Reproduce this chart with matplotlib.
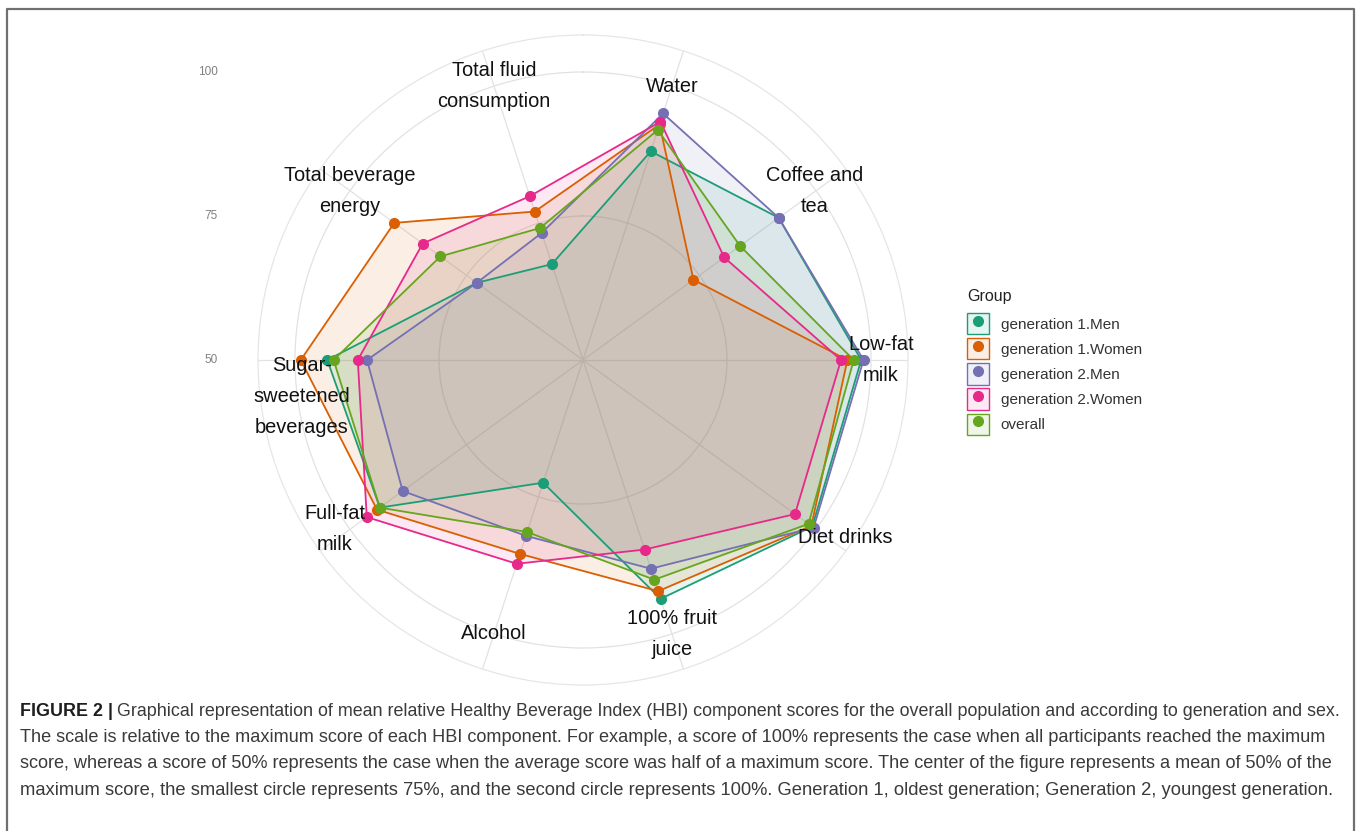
import numpy as np
import matplotlib
matplotlib.use('Agg')
import matplotlib.pyplot as plt
from matplotlib.patches import Patch
from matplotlib.lines import Line2D
from matplotlib.legend_handler import HandlerTuple
from matplotlib.colors import to_rgba

# ---------------- data ----------------
categories = ["Water", "Coffee and\ntea", "Low-fat\nmilk", "Diet drinks",
              "100% fruit\njuice", "Alcohol", "Full-fat\nmilk",
              "Sugar-\nsweetened\nbeverages", "Total beverage\nenergy",
              "Total fluid\nconsumption"]
groups = ["generation 1.Men", "generation 1.Women", "generation 2.Men",
          "generation 2.Women", "overall"]
gen1_men   = [88.1, 92.0, 98.3, 99.2, 93.6, 72.4, 93.6, 94.4, 72.8, 67.5]
gen1_women = [93.0, 73.7, 95.9, 99.0, 92.2, 85.4, 94.2, 99.0, 90.5, 77.1]
gen2_men   = [95.0, 92.0, 98.7, 99.5, 88.1, 82.1, 88.7, 87.5, 72.8, 73.2]
gen2_women = [93.5, 80.3, 94.8, 95.5, 84.6, 87.2, 96.4, 89.1, 84.4, 79.9]
overall    = [92.0, 83.7, 97.0, 98.4, 90.1, 81.4, 93.6, 93.3, 80.6, 74.1]
radial_ticks = [50, 75, 100]
legend_title = "Group"

caption_bold = "FIGURE 2 |"
caption_lines = [
    " Graphical representation of mean relative Healthy Beverage Index (HBI) component scores for the overall population and according to generation and sex.",
    "The scale is relative to the maximum score of each HBI component. For example, a score of 100% represents the case when all participants reached the maximum",
    "score, whereas a score of 50% represents the case when the average score was half of a maximum score. The center of the figure represents a mean of 50% of the",
    "maximum score, the smallest circle represents 75%, and the second circle represents 100%. Generation 1, oldest generation; Generation 2, youngest generation.",
]

# ---------------- style ----------------
colors = ["#1B9E77", "#D95F02", "#7570B3", "#E7298A", "#66A61E"]
series = [gen1_men, gen1_women, gen2_men, gen2_women, overall]
FONT = "Liberation Sans"
plt.rcParams['font.family'] = [FONT, 'DejaVu Sans']

W, H = 1360, 831
cx, cy, R = 583, 360, 325
fig = plt.figure(figsize=(W / 100, H / 100), dpi=100)
fig.patch.set_facecolor('white')

ax = fig.add_axes([(cx - R) / W, (H - cy - R) / H, 2 * R / W, 2 * R / H],
                  projection='polar')
ax.set_theta_zero_location('N')
ax.set_theta_direction(-1)
rmax = 50 + 50 * R / 288.0
ax.set_ylim(50, rmax)
theta = np.deg2rad(18 + 36 * np.arange(len(categories)))
ax.set_xticks(theta)
ax.set_xticklabels([])
ax.set_yticks([75, 100])
ax.set_yticklabels([])
ax.grid(True, color='#e2e2e2', lw=0.9)
ax.spines['polar'].set_color('#e6e6e6')
ax.spines['polar'].set_linewidth(0.9)

tt = np.append(theta, theta[0])
for vals, c in zip(series, colors):
    rr = np.append(vals, vals[0])
    ax.fill(tt, rr, color=c, alpha=0.1, lw=0, zorder=2)
for vals, c in zip(series, colors):
    rr = np.append(vals, vals[0])
    ax.plot(tt, rr, color=c, lw=1.3, zorder=3)
for vals, c in zip(series, colors):
    ax.plot(theta, vals, 'o', color=c, ms=7, zorder=4, clip_on=False)

label_offsets = [(0, 0), (-1, 0), (10, 0), (29, -8), (0, 0),
                 (0, 0), (-15, 0), (7, -36), (0, 0), (0, 0)]
for th, lab, off in zip(theta, categories, label_offsets):
    ax.annotate(lab, xy=(th, 100), xytext=off, textcoords='offset pixels',
                ha='center', va='center', fontsize=14.4, color='#111111',
                linespacing=1.8, annotation_clip=False, zorder=5)

# radial tick labels on the left
fig.canvas.draw()
for v in radial_ticks:
    _, yd = ax.transData.transform((0, v))
    fig.text(218 / W, yd / H, str(v), ha='right', va='center',
             fontsize=8.5, color='#808080')

# legend
handles = [(Patch(facecolor=to_rgba(c, 0.1), edgecolor=c, lw=1.0),
            Line2D([], [], marker='o', color=c, linestyle='None', ms=7))
           for c in colors]
leg = fig.legend(handles, groups, loc='upper left',
                 bbox_to_anchor=(967 / W, 1 - 313 / H), frameon=False,
                 handler_map={tuple: HandlerTuple(ndivide=1)},
                 handlelength=1.45, handleheight=1.77, handletextpad=0.75,
                 labelspacing=0.25, borderpad=0, borderaxespad=0,
                 fontsize=11)
for t in leg.get_texts():
    t.set_color('#333333')
fig.text(967 / W, 1 - 296 / H, legend_title, ha='left', va='center',
         fontsize=11.5, color='#222222')

# frame
fig.add_artist(Line2D([7 / W, 7 / W, 1354 / W, 1354 / W],
                      [0, 1 - 9 / H, 1 - 9 / H, 0],
                      transform=fig.transFigure, color='#707070', lw=1.6))

# caption
renderer = fig.canvas.get_renderer()
x0 = 20
targets = [1341, 1327, 1340, 1336]
baselines = [716, 742, 768, 795]
fs0 = 12.0
bt = fig.text(x0 / W, 1 - baselines[0] / H, caption_bold, fontsize=fs0,
              fontweight='bold', color='#1e1e1e', va='baseline')
texts = []
for i, line in enumerate(caption_lines):
    t = fig.text(x0 / W, 1 - baselines[i] / H, line, fontsize=fs0,
                 color='#3a3a3a', va='baseline')
    texts.append(t)
wb = bt.get_window_extent(renderer).width
for i, t in enumerate(texts):
    w = t.get_window_extent(renderer).width
    total = w + (wb if i == 0 else 0)
    s = (targets[i] - x0) / total
    t.set_fontsize(fs0 * s)
    if i == 0:
        bt.set_fontsize(fs0 * s)
        t.set_x((x0 + wb * s) / W)

fig.savefig('out.png', dpi=100, facecolor='white')
